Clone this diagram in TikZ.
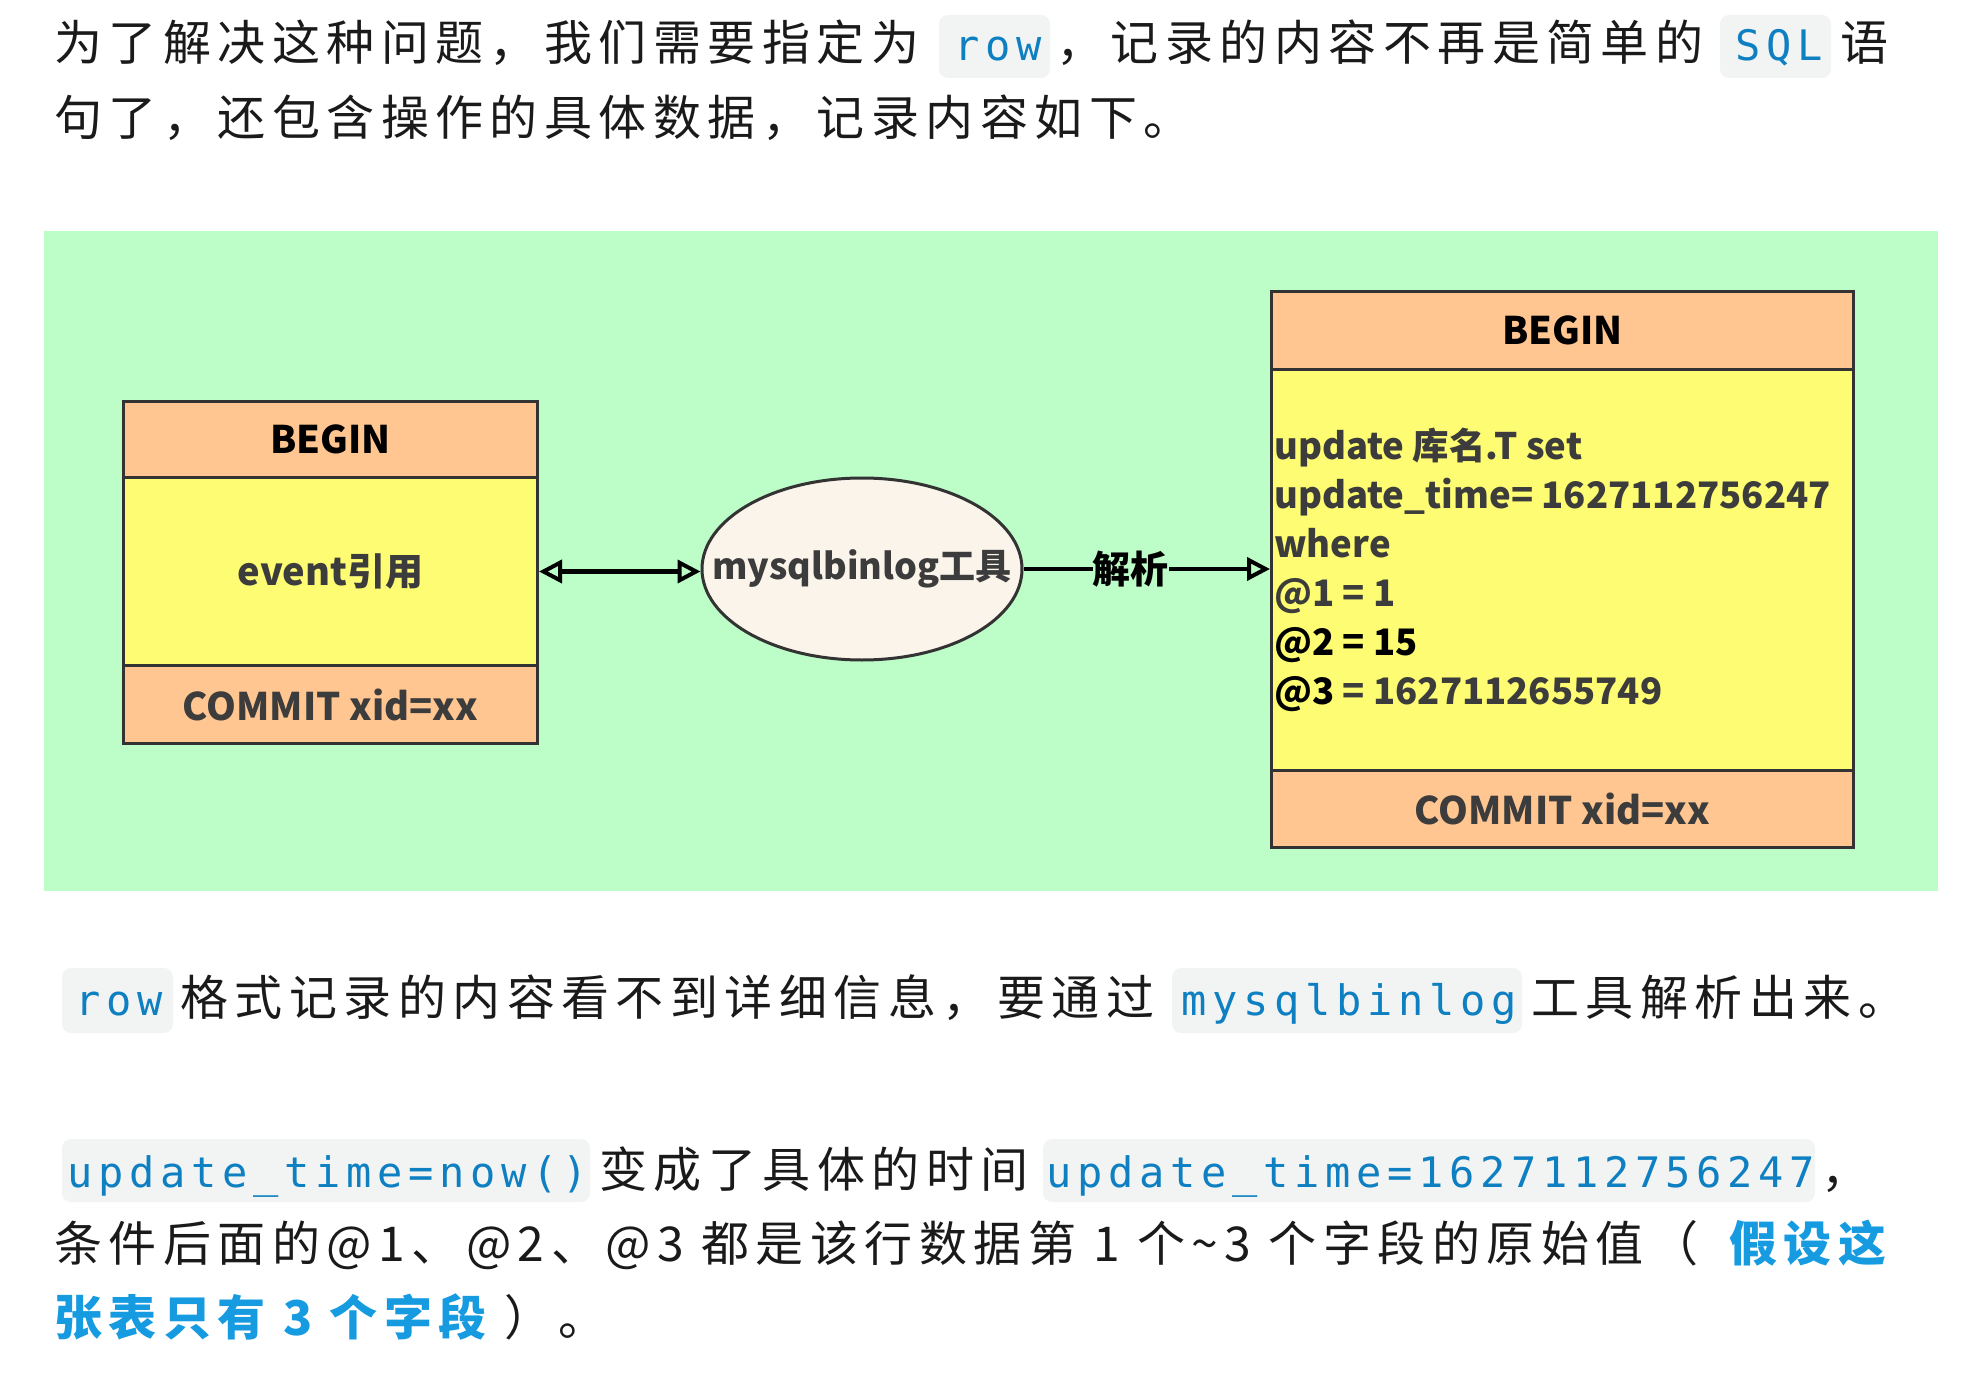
\documentclass[tikz,border=0pt]{standalone}
\usepackage{fontspec}
\setmainfont{Noto Sans CJK SC}
\newfontfamily\bodyfont[LetterSpace=13.5]{Noto Sans CJK SC}
\newfontfamily\codefont[LetterSpace=13.5]{DejaVu Sans Mono}
\newfontfamily\diafont{Noto Sans CJK SC}
\usetikzlibrary{arrows.meta,shapes.geometric}
\definecolor{bggreen}{HTML}{BDFDC8}
\definecolor{hdr}{HTML}{FFC691}
\definecolor{yel}{HTML}{FDFC72}
\definecolor{ell}{HTML}{FAF4EA}
\definecolor{edge}{HTML}{333333}
\definecolor{codeblue}{HTML}{0E80C2}
\definecolor{hiblue}{HTML}{169BE1}
\definecolor{codebg}{HTML}{F2F3F3}
\definecolor{txt}{HTML}{1A1A1A}
\definecolor{diatxt}{HTML}{3C3C3C}
\tikzset{opentri/.tip={Triangle[open,length=23pt,width=23pt,line width=4pt]}}
\begin{document}
\begin{tikzpicture}[x=1pt,y=-1pt,
  body/.style={anchor=base west, inner sep=0pt, font=\fontsize{48}{48}\bodyfont, text=txt},
  hibody/.style={body, font=\fontsize{48}{48}\bodyfont\bfseries, text=hiblue},
  code/.style={anchor=base, inner sep=0pt, font=\fontsize{42}{42}\codefont, text=codeblue},
  codebox/.style={fill=codebg, rounded corners=9pt},
  cell/.style={draw=edge, line width=3pt, inner sep=0pt, anchor=north west,
    font=\fontsize{38}{38}\diafont\bfseries, text=diatxt},
  head/.style={cell, fill=hdr, text=black},
  arr/.style={line width=4.5pt, draw=black},
]
\useasboundingbox (0,0) rectangle (1976,1396);
\fill[white] (0,0) rectangle (1976,1396);

% ---- top paragraph ----
\fill[codebox] (939,15) rectangle (1050,78);
\fill[codebox] (1720,15) rectangle (1831,78);
\node[body] (t1a) at (54,61) {为了解决这种问题，我们需要指定为};
\node[code] (t1b) at (998,61) {row};
\node[body] (t1c) at (1056,61) {，记录的内容不再是简单的};
\node[code] (t1d) at (1779,61) {SQL};
\node[body] (t1e) at (1840,61) {语};
\node[body] (t2) at (54,136) {句了，还包含操作的具体数据，记录内容如下。};

% ---- diagram ----
\fill[bggreen] (44,231) rectangle (1938,891);

\node[head, minimum width=414pt, minimum height=76pt] (lh) at (122,400) {BEGIN};
\node[cell, fill=yel, minimum width=414pt, minimum height=188pt] (lb) at (122,476) {event引用};
\node[cell, fill=hdr, minimum width=414pt, minimum height=78pt] (lf) at (122,664) {COMMIT xid=xx};

\node[ellipse, draw=edge, fill=ell, line width=3pt, minimum width=320pt, minimum height=182pt,
  inner sep=0pt] (tool) at (862,569) {};
\node[inner sep=0pt, font=\fontsize{36}{36}\diafont\bfseries, text=diatxt] (tooltxt) at (tool.center) {mysqlbinlog工具};

\node[head, minimum width=582pt, minimum height=78pt] (rh) at (1270,290) {BEGIN};
\node[cell, fill=yel, minimum width=582pt, minimum height=401pt] (rb) at (1270,368) {};
\node[cell, fill=hdr, minimum width=582pt, minimum height=77pt] (rf) at (1270,769) {COMMIT xid=xx};

\node[anchor=west, align=left, inner sep=0pt, font=\fontsize{36.5}{49}\diafont\bfseries, text=diatxt] (rtext) at (1274,570)
  {update 库名.T set\\
   update\_time= 1627112756247\\
   where\\
   @1 = 1\\
   \textcolor{black}{@2 = 15}\\
   \textcolor{black}{@3} = 1627112655749};

\draw[arr, {opentri}-{opentri}] (lb.east) -- (tool.west |- lb.east);
\draw[arr, -{opentri}] (tool.east) -- (rb.west |- tool.east)
  node[pos=0.435, fill=bggreen, inner sep=0pt, font=\fontsize{38}{38}\diafont\bfseries, text=black] (lbl) {解析};

% ---- bottom paragraphs ----
\fill[codebox] (62,968) rectangle (173,1033);
\fill[codebox] (1172,968) rectangle (1522,1033);
\node[code] (b1a) at (119,1015) {row};
\node[body] (b1b) at (180,1015) {格式记录的内容看不到详细信息，要通过};
\node[code] (b1c) at (1349,1015) {mysqlbinlog};
\node[body] (b1d) at (1531,1015) {工具解析出来。};

\fill[codebox] (62,1139) rectangle (590,1202);
\fill[codebox] (1043,1139) rectangle (1815,1202);
\node[code] (b2a) at (328,1187) {update\_time=now()};
\node[body] (b2b) at (599,1187) {变成了具体的时间};
\node[code] (b2c) at (1431,1187) {update\_time=1627112756247};
\node[body] (b2d) at (1821,1187) {，};

\node[body] (b3a) at (54,1261) {条件后面的@1、@2、@3 都是该行数据第 1 个\char"7E 3 个字段的原始值（};
\node[hibody] (b3b) at (1729,1261) {假设这};
\node[hibody] (b4a) at (54,1335) {张表只有 3 个字段};
\node[body] (b4b) at (504,1335) {）。};
\end{tikzpicture}
\end{document}
